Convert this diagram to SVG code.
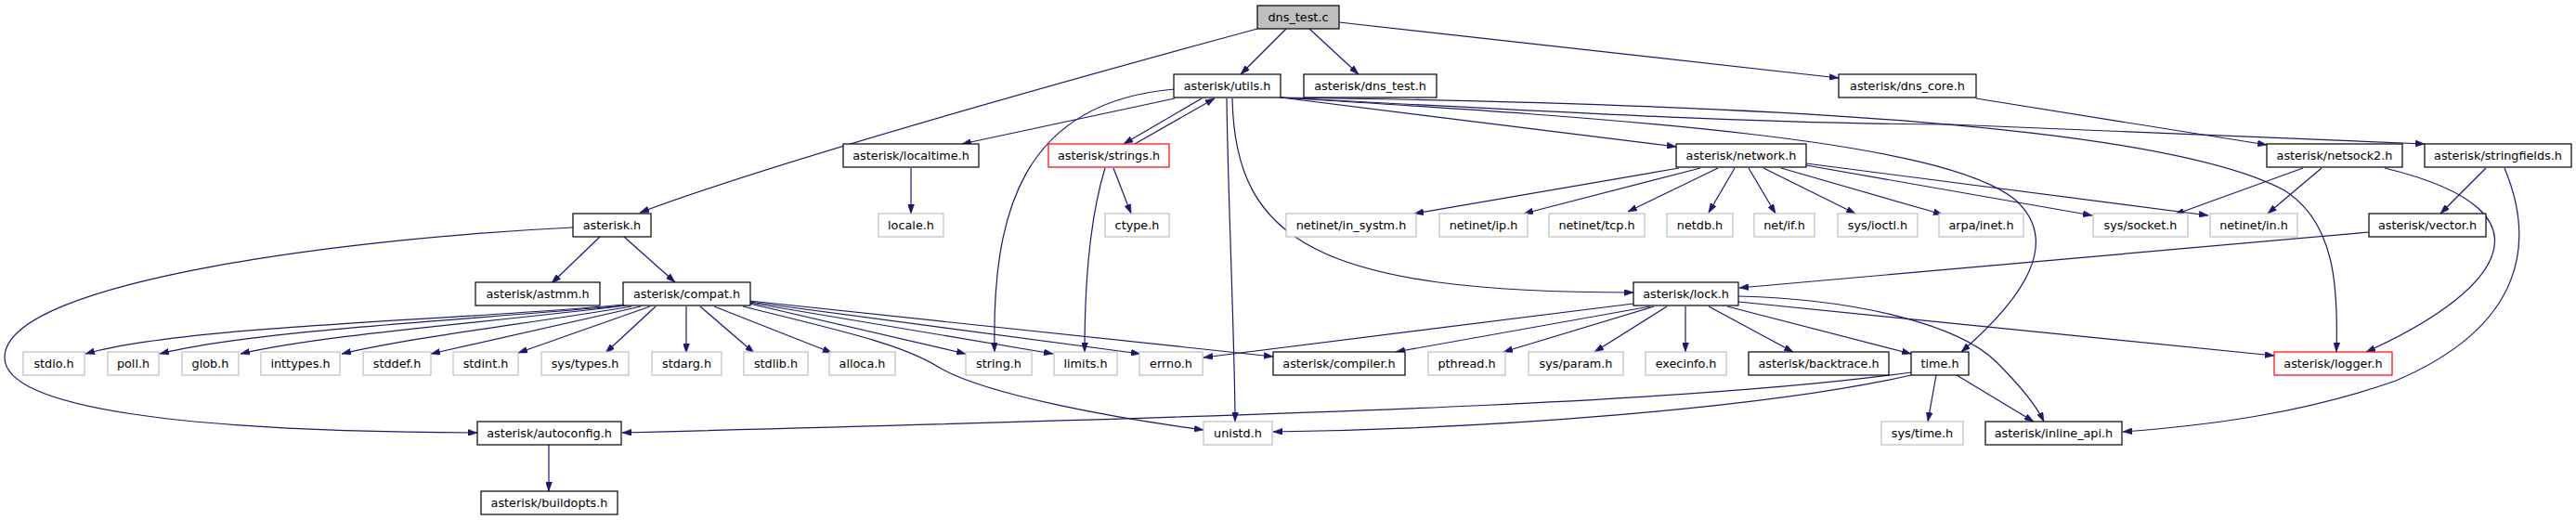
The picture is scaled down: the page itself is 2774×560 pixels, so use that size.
<svg xmlns="http://www.w3.org/2000/svg" width="2774" height="560" viewBox="0 0 2774 560">
<style>
.n rect{fill:#fff;stroke:#000;stroke-width:1.2}
.s rect{fill:#fff;stroke:#bfbfbf;stroke-width:1.2}
.r rect{fill:#fff;stroke:#f00;stroke-width:1.2}
.m rect{fill:#bfbfbf;stroke:#000;stroke-width:1.2}
text{font-family:"DejaVu Sans","Liberation Sans",sans-serif;font-size:12.8px;text-anchor:middle;fill:#000}
#edges path{fill:none;stroke:#191970;stroke-width:1.2;marker-end:url(#arr)}
</style>
<defs>
<marker id="arr" viewBox="0 0 10 7" refX="10" refY="3.5" markerWidth="10" markerHeight="7" markerUnits="userSpaceOnUse" orient="auto">
<path d="M0,0 L10,3.5 L0,7 z" fill="#191970" stroke="#191970" stroke-width="0.5"/>
</marker>
</defs>
<rect width="2774" height="560" fill="#fff"/>
<g id="edges">
<path d="M1354,31 C1100,100 820,180 689,229"/>
<path d="M1385,31 L1336,80"/>
<path d="M1410,31 L1463,80"/>
<path d="M1442,24 L1980,84"/>
<path d="M1265,106 L1036,155"/>
<path d="M981,181 L981,230"/>
<path d="M1294,106 L1210,155"/>
<path d="M1222,155 L1308,106"/>
<path d="M1265,96 C1100,110 1068,230 1071,379"/>
<path d="M1190,181 C1175,230 1168,300 1168,379"/>
<path d="M1199,181 L1218,230"/>
<path d="M1321,106 C1322,200 1330,380 1330,454"/>
<path d="M1327,106 C1330,260 1420,315 1759,315"/>
<path d="M1379,105 L1805,158"/>
<path d="M1379,105 C1750,128 2090,150 2170,215 C2220,260 2180,320 2112,379"/>
<path d="M1379,105 C1900,112 2330,135 2460,205 C2515,240 2518,310 2516,379"/>
<path d="M1379,105 C1700,122 1900,133 2100,134 L2611,155"/>
<path d="M1808,181 L1523,230"/>
<path d="M1831,181 L1641,230"/>
<path d="M1850,181 L1753,228"/>
<path d="M1868,181 L1840,229"/>
<path d="M1883,181 L1912,230"/>
<path d="M1899,181 L1998,230"/>
<path d="M1918,181 L2092,231"/>
<path d="M1945,176 L2378,232"/>
<path d="M1945,178 L2253,232"/>
<path d="M2128,106 L2441,156"/>
<path d="M2480,181 L2342,231"/>
<path d="M2500,181 L2442,230"/>
<path d="M2568,181 C2770,230 2680,320 2548,379"/>
<path d="M2677,181 L2628,230"/>
<path d="M2697,181 C2730,260 2720,350 2580,410 C2480,445 2380,458 2286,465"/>
<path d="M2551,250 L1873,310"/>
<path d="M646,255 L594,305"/>
<path d="M672,255 L727,304"/>
<path d="M617,245 C400,255 5,300 5,385 C5,440 200,465 514,466"/>
<path d="M591,479 L591,529"/>
<path d="M672,328 C500,345 200,350 92,381"/>
<path d="M673,329 C500,345 280,355 172,381"/>
<path d="M674,329 C520,348 350,360 259,381"/>
<path d="M680,330 C560,350 450,362 368,381"/>
<path d="M690,330 L464,381"/>
<path d="M700,330 L558,380"/>
<path d="M706,330 L652,380"/>
<path d="M739,330 L739,380"/>
<path d="M754,330 L812,380"/>
<path d="M769,330 L896,380"/>
<path d="M807,327 L1040,381"/>
<path d="M807,326 L1134,381"/>
<path d="M807,325 L1228,381"/>
<path d="M807,324 L1371,384"/>
<path d="M800,330 C900,355 970,370 1010,395 C1060,425 1200,450 1296,463"/>
<path d="M1759,327 L1296,385"/>
<path d="M1777,330 L1503,379"/>
<path d="M1781,330 L1619,379"/>
<path d="M1795,330 L1717,379"/>
<path d="M1815,330 L1815,379"/>
<path d="M1840,330 L1931,379"/>
<path d="M1860,330 L2058,381"/>
<path d="M1872,325 L2449,383"/>
<path d="M1872,319 C2000,322 2110,350 2150,390 C2175,415 2192,435 2201,454"/>
<path d="M2085,404 L2076,454"/>
<path d="M2107,404 L2190,454"/>
<path d="M2058,401 C1850,430 1500,445 670,466"/>
<path d="M2058,404 C1900,440 1600,462 1371,465"/>
</g>
<g id="dns_test_c" class="m"><rect x="1354" y="6" width="88" height="25"/><text x="1398" y="23">dns_test.c</text></g>
<g id="asterisk_utils_h" class="n"><rect x="1264" y="80" width="115" height="25"/><text x="1321.5" y="97">asterisk/utils.h</text></g>
<g id="asterisk_dns_test_h" class="n"><rect x="1404" y="80" width="143" height="25"/><text x="1475.5" y="97">asterisk/dns_test.h</text></g>
<g id="asterisk_dns_core_h" class="n"><rect x="1980" y="80" width="148" height="25"/><text x="2054" y="97">asterisk/dns_core.h</text></g>
<g id="asterisk_localtime_h" class="n"><rect x="908" y="155" width="146" height="25"/><text x="981" y="172">asterisk/localtime.h</text></g>
<g id="asterisk_strings_h" class="r"><rect x="1129" y="155" width="130" height="25"/><text x="1194" y="172">asterisk/strings.h</text></g>
<g id="asterisk_network_h" class="n"><rect x="1805" y="155" width="140" height="25"/><text x="1875" y="172">asterisk/network.h</text></g>
<g id="asterisk_netsock2_h" class="n"><rect x="2441" y="155" width="146" height="25"/><text x="2514" y="172">asterisk/netsock2.h</text></g>
<g id="asterisk_stringfields_h" class="n"><rect x="2611" y="155" width="158" height="25"/><text x="2690" y="172">asterisk/stringfields.h</text></g>
<g id="asterisk_h" class="n"><rect x="617" y="230" width="84" height="25"/><text x="659" y="247">asterisk.h</text></g>
<g id="locale_h" class="s"><rect x="946" y="230" width="70" height="25"/><text x="981" y="247">locale.h</text></g>
<g id="ctype_h" class="s"><rect x="1190" y="230" width="69" height="25"/><text x="1224.5" y="247">ctype.h</text></g>
<g id="netinet_in_systm_h" class="s"><rect x="1385" y="230" width="140" height="25"/><text x="1455" y="247">netinet/in_systm.h</text></g>
<g id="netinet_ip_h" class="s"><rect x="1550" y="230" width="95" height="25"/><text x="1597.5" y="247">netinet/ip.h</text></g>
<g id="netinet_tcp_h" class="s"><rect x="1668" y="230" width="103" height="25"/><text x="1719.5" y="247">netinet/tcp.h</text></g>
<g id="netdb_h" class="s"><rect x="1795" y="230" width="71" height="25"/><text x="1830.5" y="247">netdb.h</text></g>
<g id="net_if_h" class="s"><rect x="1889" y="230" width="65" height="25"/><text x="1921.5" y="247">net/if.h</text></g>
<g id="sys_ioctl_h" class="s"><rect x="1979" y="230" width="86" height="25"/><text x="2022" y="247">sys/ioctl.h</text></g>
<g id="arpa_inet_h" class="s"><rect x="2088" y="230" width="91" height="25"/><text x="2133.5" y="247">arpa/inet.h</text></g>
<g id="sys_socket_h" class="s"><rect x="2254" y="230" width="102" height="25"/><text x="2305" y="247">sys/socket.h</text></g>
<g id="netinet_in_h" class="s"><rect x="2380" y="230" width="94" height="25"/><text x="2427" y="247">netinet/in.h</text></g>
<g id="asterisk_vector_h" class="n"><rect x="2551" y="230" width="126" height="25"/><text x="2614" y="247">asterisk/vector.h</text></g>
<g id="asterisk_astmm_h" class="n"><rect x="512" y="304" width="134" height="25"/><text x="579" y="321">asterisk/astmm.h</text></g>
<g id="asterisk_compat_h" class="n"><rect x="671" y="304" width="137" height="25"/><text x="739.5" y="321">asterisk/compat.h</text></g>
<g id="asterisk_lock_h" class="n"><rect x="1759" y="304" width="113" height="25"/><text x="1815.5" y="321">asterisk/lock.h</text></g>
<g id="stdio_h" class="s"><rect x="25" y="379" width="66" height="25"/><text x="58" y="396">stdio.h</text></g>
<g id="poll_h" class="s"><rect x="116" y="379" width="55" height="25"/><text x="143.5" y="396">poll.h</text></g>
<g id="glob_h" class="s"><rect x="196" y="379" width="61" height="25"/><text x="226.5" y="396">glob.h</text></g>
<g id="inttypes_h" class="s"><rect x="281" y="379" width="85" height="25"/><text x="323.5" y="396">inttypes.h</text></g>
<g id="stddef_h" class="s"><rect x="391" y="379" width="73" height="25"/><text x="427.5" y="396">stddef.h</text></g>
<g id="stdint_h" class="s"><rect x="488" y="379" width="70" height="25"/><text x="523" y="396">stdint.h</text></g>
<g id="sys_types_h" class="s"><rect x="583" y="379" width="94" height="25"/><text x="630" y="396">sys/types.h</text></g>
<g id="stdarg_h" class="s"><rect x="702" y="379" width="75" height="25"/><text x="739.5" y="396">stdarg.h</text></g>
<g id="stdlib_h" class="s"><rect x="801" y="379" width="69" height="25"/><text x="835.5" y="396">stdlib.h</text></g>
<g id="alloca_h" class="s"><rect x="893" y="379" width="71" height="25"/><text x="928.5" y="396">alloca.h</text></g>
<g id="string_h" class="s"><rect x="1040" y="379" width="71" height="25"/><text x="1075.5" y="396">string.h</text></g>
<g id="limits_h" class="s"><rect x="1135" y="379" width="68" height="25"/><text x="1169" y="396">limits.h</text></g>
<g id="errno_h" class="s"><rect x="1227" y="379" width="68" height="25"/><text x="1261" y="396">errno.h</text></g>
<g id="asterisk_compiler_h" class="n"><rect x="1371" y="379" width="142" height="25"/><text x="1442" y="396">asterisk/compiler.h</text></g>
<g id="pthread_h" class="s"><rect x="1538" y="379" width="83" height="25"/><text x="1579.5" y="396">pthread.h</text></g>
<g id="sys_param_h" class="s"><rect x="1646" y="379" width="102" height="25"/><text x="1697" y="396">sys/param.h</text></g>
<g id="execinfo_h" class="s"><rect x="1772" y="379" width="87" height="25"/><text x="1815.5" y="396">execinfo.h</text></g>
<g id="asterisk_backtrace_h" class="n"><rect x="1883" y="379" width="151" height="25"/><text x="1958.5" y="396">asterisk/backtrace.h</text></g>
<g id="time_h" class="n"><rect x="2058" y="379" width="62" height="25"/><text x="2089" y="396">time.h</text></g>
<g id="asterisk_logger_h" class="r"><rect x="2449" y="379" width="127" height="25"/><text x="2512.5" y="396">asterisk/logger.h</text></g>
<g id="asterisk_autoconfig_h" class="n"><rect x="514" y="454" width="155" height="25"/><text x="591.5" y="471">asterisk/autoconfig.h</text></g>
<g id="unistd_h" class="s"><rect x="1296" y="454" width="74" height="25"/><text x="1333" y="471">unistd.h</text></g>
<g id="sys_time_h" class="s"><rect x="2026" y="454" width="88" height="25"/><text x="2070" y="471">sys/time.h</text></g>
<g id="asterisk_inline_api_h" class="n"><rect x="2138" y="454" width="147" height="25"/><text x="2211.5" y="471">asterisk/inline_api.h</text></g>
<g id="asterisk_buildopts_h" class="n"><rect x="518" y="529" width="147" height="25"/><text x="591.5" y="546">asterisk/buildopts.h</text></g>
</svg>
